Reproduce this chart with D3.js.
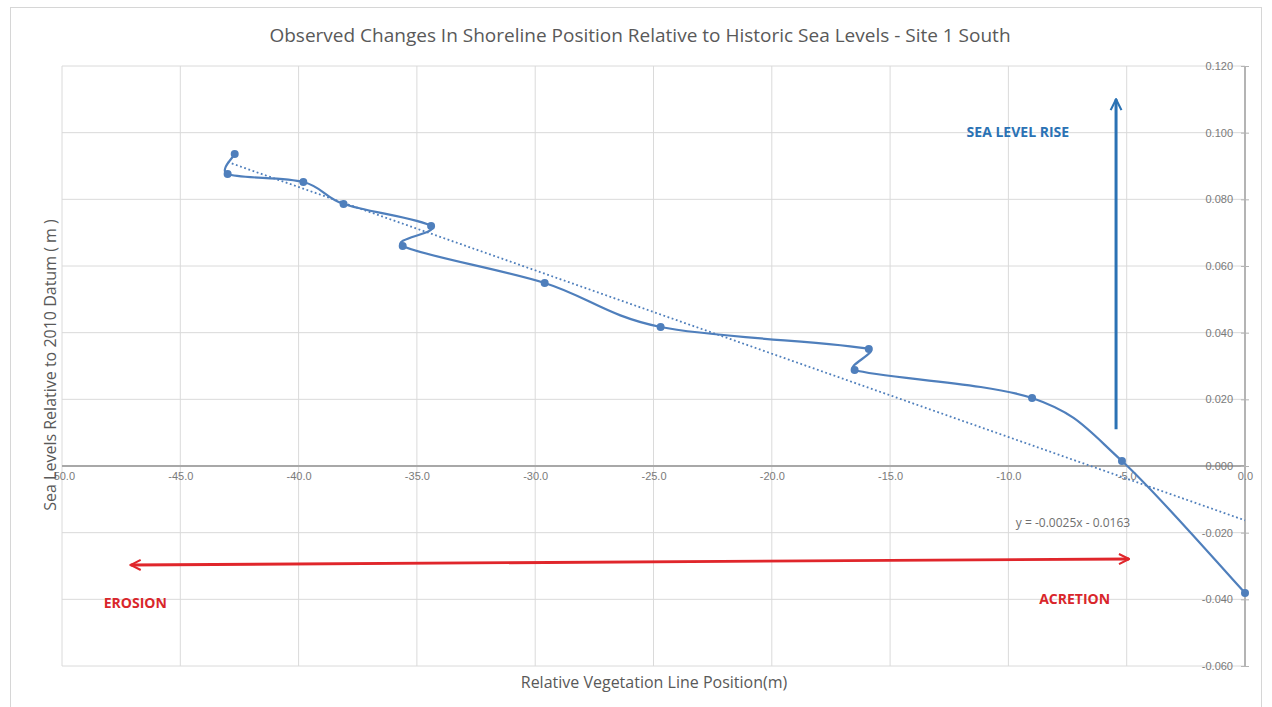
<!DOCTYPE html>
<html>
<head>
<meta charset="utf-8">
<script src="https://cdn.jsdelivr.net/npm/d3@7"></script>
<style>
  body { margin: 0; background: #fff; }
  svg { display: block; font-family: "Open Sans", sans-serif; }
</style>
</head>
<body>
<div id="chart"></div>
<script>
// shoreline position (m) vs sea level (m)
var positions = [-42.7, -43.0, -39.8, -38.1, -34.4, -35.6, -29.6, -24.7, -15.9, -16.5, -9.0, -5.2, 0.0];
var seaLevels = [0.0936, 0.0876, 0.0852, 0.0786, 0.0720, 0.0660, 0.0549, 0.0417, 0.0351, 0.0288, 0.0204, 0.0015, -0.0381];
var xTicks = [-50, -45, -40, -35, -30, -25, -20, -15, -10, -5, 0];
var yTicks = [-0.06, -0.04, -0.02, 0, 0.02, 0.04, 0.06, 0.08, 0.1, 0.12];
var trend = { slope: -0.0025, intercept: -0.0163 };

(function(d3){
	var width = 1272, height = 707;
	var left = 62, right = 1245, top = 66, bottom = 666;
	var lineColor = "#4f7fbc", gridColor = "#dadada", textColor = "#7a7a7a";

	var svg = d3.select("#chart").append("svg")
		.attr("width", width)
		.attr("height", height);

	var defs = svg.append("defs");
	function chevron(id, color){
		defs.append("marker").attr("id", id)
			.attr("viewBox", "0 -5 10 10").attr("refX", 9).attr("refY", 0)
			.attr("markerWidth", 4.5).attr("markerHeight", 4.5)
			.attr("markerUnits", "strokeWidth")
			.attr("orient", "auto-start-reverse")
			.append("path").attr("d", "M1,-4L9,0L1,4")
			.attr("fill", "none").attr("stroke", color).attr("stroke-width", 1.6);
	}
	chevron("arrRed", "#e0262b");
	chevron("arrBlue", "#2b72b4");

	// chart frame
	svg.append("rect").attr("x", 10.5).attr("y", 7.5).attr("width", 1251).attr("height", 720)
		.attr("fill", "#fff").attr("stroke", "#d6d6d6");

	var x = d3.scaleLinear().domain([-50, 0]).range([left, right]);
	var y = d3.scaleLinear().domain([-0.06, 0.12]).range([bottom, top]);
	var hyphen = function(f){ return function(d){ return f(d).replace("\u2212", "-"); }; };

	// gridlines
	var grid = svg.append("g").attr("class", "grid");
	grid.selectAll(".gx").data(xTicks).enter().append("line")
		.attr("x1", function(d){ return x(d); }).attr("x2", function(d){ return x(d); })
		.attr("y1", top).attr("y2", bottom)
		.attr("stroke", gridColor).attr("stroke-width", 1);
	grid.selectAll(".gy").data(yTicks).enter().append("line")
		.attr("x1", left).attr("x2", right)
		.attr("y1", function(d){ return y(d); }).attr("y2", function(d){ return y(d); })
		.attr("stroke", gridColor).attr("stroke-width", 1);

	// axes: horizontal at y = 0, vertical at x = 0
	svg.append("line").attr("x1", left).attr("x2", right)
		.attr("y1", y(0)).attr("y2", y(0))
		.attr("stroke", "#a8a8a8").attr("stroke-width", 2);
	svg.append("line").attr("x1", x(0)).attr("x2", x(0))
		.attr("y1", top).attr("y2", bottom)
		.attr("stroke", "#b4b4b4").attr("stroke-width", 2);

	var yAxis = d3.axisLeft(y).tickValues(yTicks).tickSize(0).tickPadding(12)
		.tickFormat(hyphen(d3.format(".3f")));
	var gy = svg.append("g").attr("transform", "translate(" + x(0) + ",0)").call(yAxis);
	gy.select(".domain").remove();
	gy.selectAll("text").attr("fill", textColor).style("font-size", "11px");
	gy.selectAll(".tick").append("line").attr("x1", -4).attr("x2", 4)
		.attr("stroke", "#b4b4b4");

	var xAxis = d3.axisBottom(x).tickValues(xTicks).tickSize(0).tickPadding(6)
		.tickFormat(hyphen(d3.format(".1f")));
	var gx = svg.append("g").attr("transform", "translate(0," + y(0) + ")").call(xAxis);
	gx.select(".domain").remove();
	gx.selectAll("text").attr("fill", textColor).style("font-size", "11px");

	// trendline over the data range
	var xs = d3.extent(positions);
	svg.append("line")
		.attr("x1", x(xs[0])).attr("y1", y(trend.slope * xs[0] + trend.intercept))
		.attr("x2", x(xs[1])).attr("y2", y(trend.slope * xs[1] + trend.intercept))
		.attr("stroke", lineColor).attr("stroke-width", 1.8)
		.attr("stroke-dasharray", "1.8,2.6");

	// smoothed data line, spreadsheet style: bezier with tangents clamped to segment length
	var pts = positions.map(function(p, i){ return [p, seaLevels[i]]; });
	var px = pts.map(function(d){ return [x(d[0]), y(d[1])]; });
	function smooth(p){
		var path = d3.path(), n = p.length;
		function tangent(i){
			var a = p[Math.max(i - 1, 0)], b = p[Math.min(i + 1, n - 1)];
			return [(b[0] - a[0]) / 6, (b[1] - a[1]) / 6];
		}
		function clamp(t, len){
			var m = Math.sqrt(t[0] * t[0] + t[1] * t[1]), lim = len * 0.45;
			return m > lim ? [t[0] * lim / m, t[1] * lim / m] : t;
		}
		path.moveTo(p[0][0], p[0][1]);
		for(var i = 0; i < n - 1; i++){
			var a = p[i], b = p[i + 1],
				len = Math.hypot(b[0] - a[0], b[1] - a[1]),
				t1 = clamp(tangent(i), len),
				t2 = clamp(tangent(i + 1), len);
			path.bezierCurveTo(a[0] + t1[0], a[1] + t1[1], b[0] - t2[0], b[1] - t2[1], b[0], b[1]);
		}
		return path.toString();
	}
	svg.append("path").attr("d", smooth(px))
		.attr("fill", "none").attr("stroke", lineColor).attr("stroke-width", 2.2);
	svg.selectAll(".pt").data(pts).enter().append("circle")
		.attr("cx", function(d){ return x(d[0]); })
		.attr("cy", function(d){ return y(d[1]); })
		.attr("r", 4).attr("fill", lineColor);

	// annotations (in data units)
	svg.append("line")
		.attr("x1", x(-47.1)).attr("y1", y(-0.0297))
		.attr("x2", x(-4.9)).attr("y2", y(-0.0279))
		.attr("stroke", "#e0262b").attr("stroke-width", 2.8)
		.attr("marker-start", "url(#arrRed)").attr("marker-end", "url(#arrRed)");
	svg.append("line")
		.attr("x1", x(-5.45)).attr("y1", y(0.011))
		.attr("x2", x(-5.45)).attr("y2", y(0.110))
		.attr("stroke", "#2b72b4").attr("stroke-width", 3)
		.attr("marker-end", "url(#arrBlue)");

	function label(txt, vx, vy, color, size, weight){
		svg.append("text").attr("x", x(vx)).attr("y", y(vy))
			.attr("text-anchor", "middle").attr("dominant-baseline", "central")
			.attr("fill", color).style("font-size", size + "px")
			.style("font-weight", weight).text(txt);
	}
	label("SEA LEVEL RISE", -9.6, 0.1005, "#2b72b4", 14, "bold");
	label("EROSION", -46.9, -0.0408, "#d9262b", 14, "bold");
	label("ACRETION", -7.2, -0.0396, "#d9262b", 14, "bold");
	label("y = -0.0025x - 0.0163", -7.27, -0.0168, "#6f6f6f", 12, "normal");

	// titles
	svg.append("text").attr("x", 640).attr("y", 35)
		.attr("text-anchor", "middle").attr("dominant-baseline", "central")
		.attr("fill", "#595959").style("font-size", "19px")
		.text("Observed Changes In Shoreline Position Relative to Historic Sea Levels - Site 1 South");
	svg.append("text").attr("x", 654).attr("y", 682)
		.attr("text-anchor", "middle").attr("dominant-baseline", "central")
		.attr("fill", "#595959").style("font-size", "16px")
		.text("Relative Vegetation Line Position(m)");
	svg.append("text")
		.attr("transform", "translate(50,365) rotate(-90)")
		.attr("text-anchor", "middle").attr("dominant-baseline", "central")
		.attr("fill", "#595959").style("font-size", "16px")
		.text("Sea Levels Relative to 2010 Datum ( m )");
})(d3);
</script>
</body>
</html>
